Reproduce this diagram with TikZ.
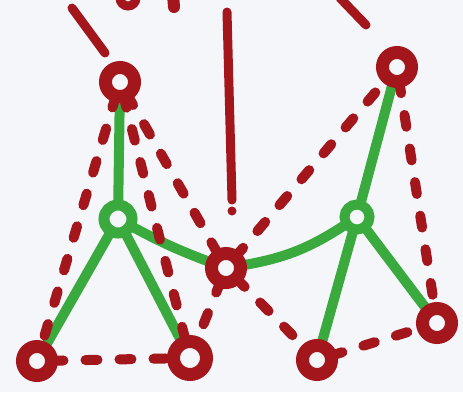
\documentclass[tikz,border=0pt]{standalone}
\usetikzlibrary{calc}
\definecolor{bgc}{HTML}{F4F6FA}
\definecolor{redc}{HTML}{A3161C}
\definecolor{greenc}{HTML}{3AAA3E}
\pgfdeclarelayer{back}
\pgfdeclarelayer{bg}
\pgfsetlayers{back,bg,main}
\begin{document}
\begin{tikzpicture}[x=1pt,y=-1pt,
  rnode/.style={circle,draw=redc,line width=13pt,fill=bgc,minimum size=29pt,inner sep=0pt,outer sep=0pt},
  gnode/.style={circle,draw=greenc,line width=11pt,fill=bgc,minimum size=28pt,inner sep=0pt,outer sep=0pt},
  gline/.style={draw=greenc,line width=10pt,line cap=round},
  rdash/.style={draw=redc,line width=10pt,line cap=round,dash pattern=on 12pt off 22pt},
  rline/.style={draw=redc,line width=9pt,line cap=round}]
\begin{pgfonlayer}{back}
\fill[bgc] (0,0) rectangle (463,392);
\end{pgfonlayer}
\useasboundingbox (0,0) rectangle (463,392);
% red nodes
\node[rnode] (TL) at (120,82) {};
\node[rnode] (TR) at (397,67) {};
\node[rnode] (M) at (226,268) {};
\node[rnode] (BLa) at (37,361) {};
\node[rnode,minimum size=33pt] (BLb) at (190,358) {};
\node[rnode] (BRa) at (317,360) {};
\node[rnode] (BRb) at (437,323) {};
% green nodes
\node[gnode] (GL) at (118,219) {};
\node[gnode,minimum size=25pt,line width=10pt] (GR) at (357,217) {};
% stubs
\coordinate (s1a) at (72,8);
\coordinate (s1b) at (105,53);
\coordinate (s2a) at (227,12);
\coordinate (s2b) at (232,200);
\coordinate (s3a) at (340,-2);
\coordinate (s3b) at (366,25);
\coordinate (s4a) at (173,-5);
\coordinate (s4b) at (174,7);
\begin{pgfonlayer}{bg}
\draw[gline] (GL) -- (TL.center);
\draw[gline] (GL) -- (BLa.center);
\draw[gline] (GL) -- (BLb);
\draw[gline] (GL) to[bend right=4] (M);
\draw[gline] (M) to[bend right=12] (GR);
\draw[gline] (GR) -- (TR);
\draw[gline] (GR) -- (BRa);
\draw[gline] (GR) -- (BRb);
\draw[rdash] (TL) -- (BLa);
\draw[rdash] (TL) -- (BLb);
\draw[rdash] (TL) -- (M);
\draw[rdash] (M) -- (TR);
\draw[rdash] (TR) -- (BRb);
\draw[rdash] (BLa) -- (BLb);
\draw[rdash] (BRa) -- (BRb);
\draw[rdash] (M) -- (BLb);
\draw[rdash] (M) -- (BRa);
\end{pgfonlayer}
\draw[rline] (s1a) -- (s1b);
\draw[rline] (s2a) -- (s2b);
\fill[redc] (232,211) circle (4.5pt);
\draw[rline] (s3a) -- (s3b);
\draw[rline,line width=12pt] (s4a) -- (s4b);
\draw[redc,line width=9pt] (128,-2) circle (8pt);
\end{tikzpicture}
\end{document}
